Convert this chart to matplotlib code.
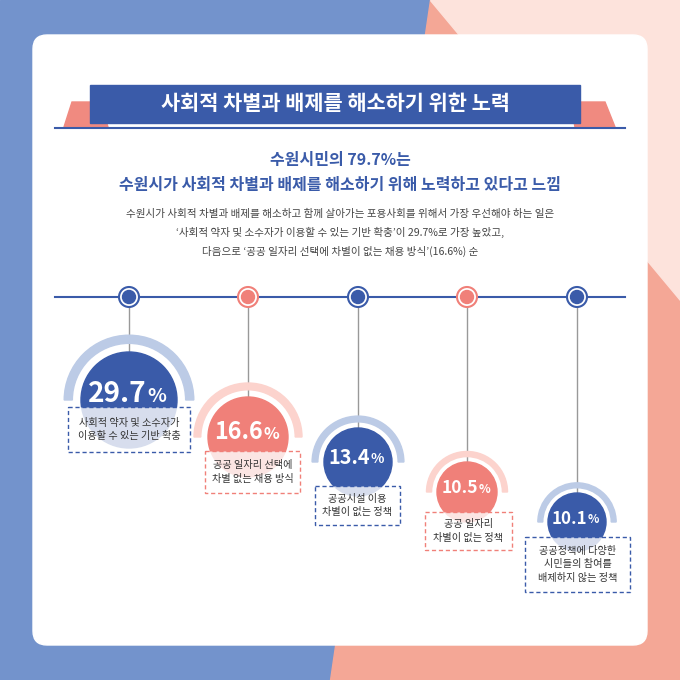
import matplotlib
matplotlib.use("Agg")
import matplotlib.pyplot as plt
from matplotlib.patches import Polygon, Circle, Wedge, FancyBboxPatch, Rectangle

plt.rcParams["font.family"] = ["Noto Sans CJK KR", "Noto Sans CJK JP", "Noto Sans CJK SC", "DejaVu Sans"]

values = [29.7, 16.6, 13.4, 10.5, 10.1]
labels = ["사회적 약자 및 소수자가\n이용할 수 있는 기반 확충",
          "공공 일자리 선택에\n차별 없는 채용 방식",
          "공공시설 이용\n차별이 없는 정책",
          "공공 일자리\n차별이 없는 정책",
          "공공정책에 다양한\n시민들의 참여를\n배제하지 않는 정책"]
title = "사회적 차별과 배제를 해소하기 위한 노력"
subtitle = ["수원시민의 79.7%는", "수원시가 사회적 차별과 배제를 해소하기 위해 노력하고 있다고 느낌"]
body = ["수원시가 사회적 차별과 배제를 해소하고 함께 살아가는 포용사회를 위해서 가장 우선해야 하는 일은",
        "‘사회적 약자 및 소수자가 이용할 수 있는 기반 확충’이 29.7%로 가장 높았고,",
        "다음으로 ‘공공 일자리 선택에 차별이 없는 채용 방식’(16.6%) 순"]

BLUE = "#3a5ba9"; SAL = "#f08079"; LBLUE = "#bccbe6"; LSAL = "#fcd3cd"
kind = [0, 1, 0, 1, 0]
xs = [129, 248, 358, 467, 577]
cys = [400, 437, 462, 492, 522]
rs = [48, 40, 34, 30, 29]
boxes = [(68, 407, 190, 452), (205, 451, 300, 493), (315, 486, 400, 525),
         (425, 512, 512, 550), (525, 537, 630, 592)]

fig = plt.figure(figsize=(6.8, 6.8), dpi=100)
ax = fig.add_axes([0, 0, 1, 1])
ax.set_xlim(0, 680); ax.set_ylim(680, 0); ax.axis("off")
ax.add_patch(Rectangle((0, 0), 680, 680, color="#7393cc", zorder=0))
ax.add_patch(Polygon([(430, 0), (680, 0), (680, 680), (330, 680)], color="#f4a796", zorder=0))
ax.add_patch(Polygon([(430, 0), (680, 0), (680, 300)], color="#fde3dc", zorder=0))
ax.add_patch(FancyBboxPatch((33, 35), 614, 610, boxstyle="round,pad=0,rounding_size=14",
                            color="white", zorder=1))

# title banner
ax.add_patch(Polygon([(72, 102), (100, 102), (108, 127), (64, 127)], color="#f08a80", zorder=2))
ax.add_patch(Polygon([(570, 102), (605, 102), (615, 127), (575, 127)], color="#f08a80", zorder=2))
ax.add_patch(Rectangle((90, 85), 490, 38, color=BLUE, zorder=3))
ax.plot([55, 625], [128, 128], color=BLUE, lw=1.5, zorder=3)
ax.text(335, 104, title, color="white", fontsize=15, fontweight="bold", ha="center", va="center", zorder=4)
ax.text(340, 160, subtitle[0], color=BLUE, fontsize=11.5, fontweight="bold", ha="center", va="center", zorder=4)
ax.text(340, 185, subtitle[1], color=BLUE, fontsize=11.5, fontweight="bold", ha="center", va="center", zorder=4)
for i, t in enumerate(body):
    ax.text(340, 214 + i * 18.5, t, color="#444444", fontsize=7.6, ha="center", va="center", zorder=4)

# timeline
ax.plot([55, 625], [297, 297], color=BLUE, lw=1.5, zorder=3)
for i, v in enumerate(values):
    c = BLUE if kind[i] == 0 else SAL
    lc = LBLUE if kind[i] == 0 else LSAL
    x, cy, r = xs[i], cys[i], rs[i]
    ax.add_patch(Circle((x, 297), 10, facecolor="white", edgecolor=c, lw=1.5, zorder=5))
    ax.add_patch(Circle((x, 297), 6.5, color=c, zorder=6))
    ax.plot([x, x], [307, cy - r], color="#999999", lw=1, zorder=3)
    ax.add_patch(Wedge((x, cy), r * 1.35, 180, 360, width=r * 0.17, color=lc, zorder=3))
    ax.add_patch(Circle((x, cy), r, color=c, zorder=4))
    fs = r * 0.42
    ax.text(x + r * 0.36, cy - r * 0.12, f"{v}", color="white", fontsize=fs, fontweight="bold",
            ha="right", va="center", zorder=7)
    ax.text(x + r * 0.38, cy - r * 0.08, "%", color="white", fontsize=fs * 0.7, fontweight="bold",
            ha="left", va="center", zorder=7)
    x0, y0, x1, y1 = boxes[i]
    ax.add_patch(Rectangle((x0, y0), x1 - x0, y1 - y0, facecolor=(1, 1, 1, 0.8),
                           edgecolor=c, lw=1, ls=(0, (3, 2)), zorder=6))
    ax.text((x0 + x1) / 2, (y0 + y1) / 2, labels[i], color="#333333", fontsize=7.3,
            ha="center", va="center", linespacing=1.4, zorder=7)

fig.savefig("out.png", dpi=100)
